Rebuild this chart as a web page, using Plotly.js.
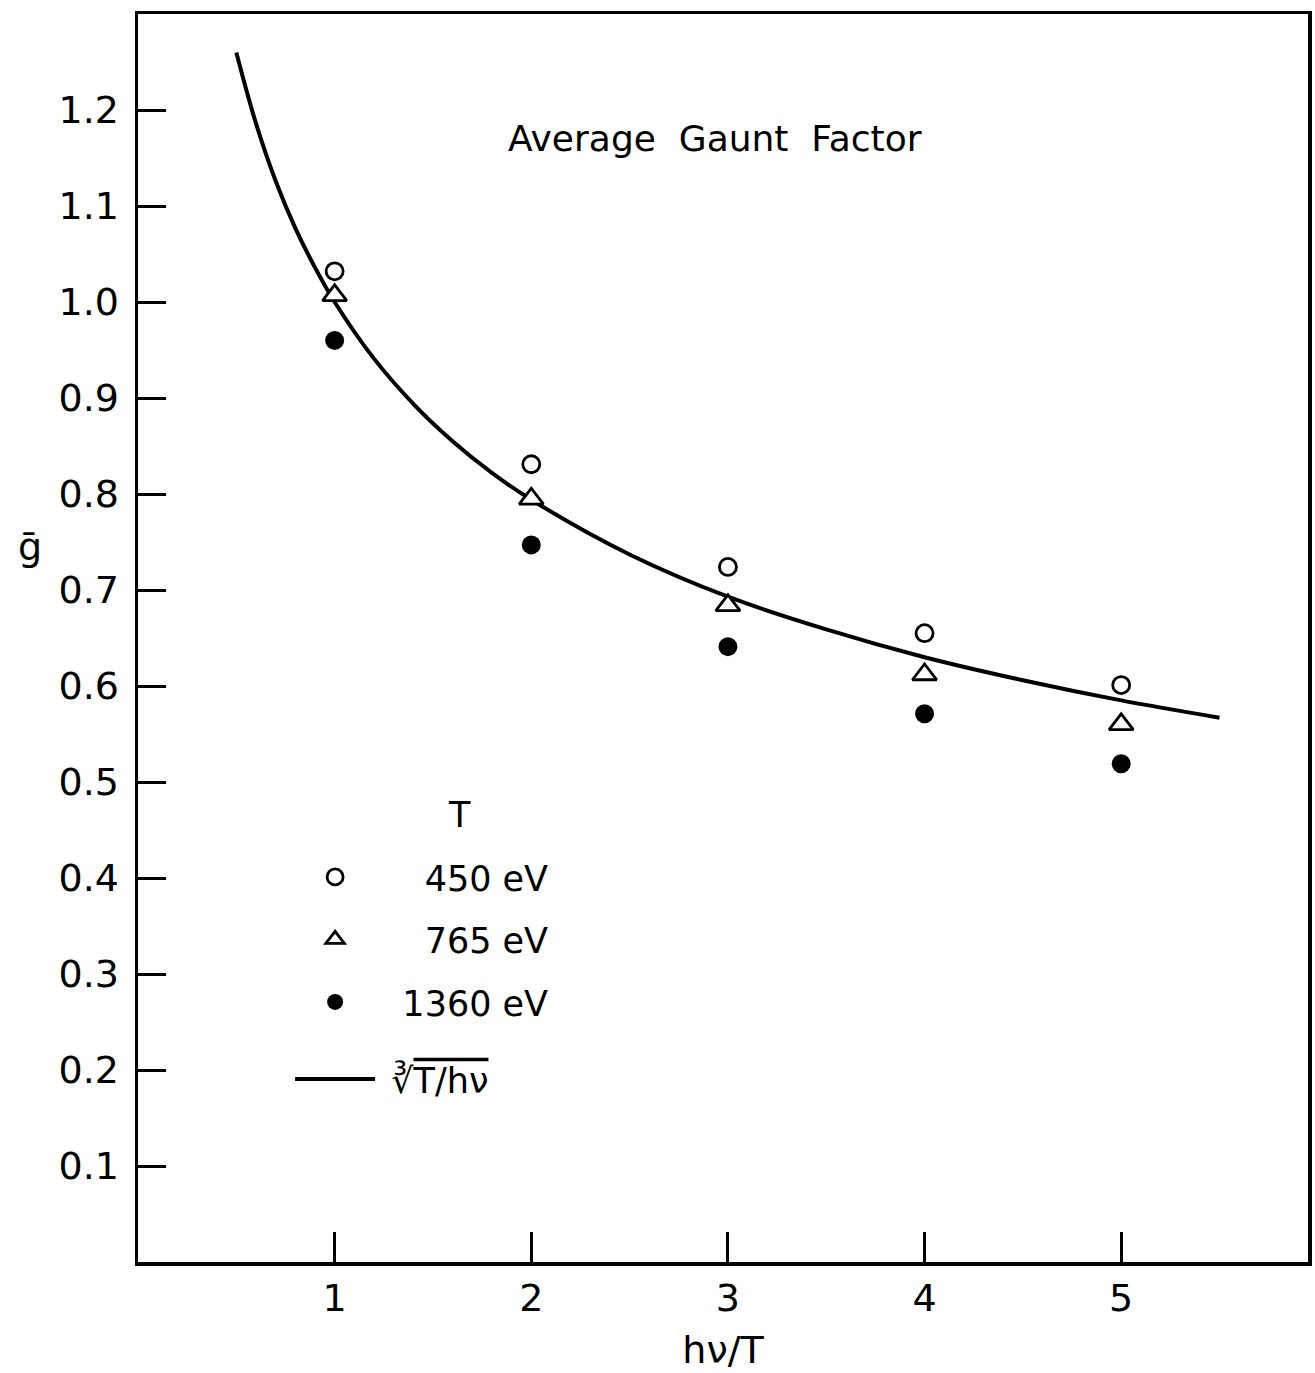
<!DOCTYPE html>
<html>
<head>
<meta charset="utf-8">
<script src="https://cdn.plot.ly/plotly-3.0.1.min.js"></script>
<style>
  html, body { margin: 0; padding: 0; background: #fff; }
  #chart { width: 1315px; height: 1373px; }
</style>
</head>
<body>
<div id="chart"></div>
<script>
// Photon energy in units of the electron temperature
var hvOverT = [1, 2, 3, 4, 5];

// Average Gaunt factor at three plasma temperatures
var gaunt450 = [1.032, 0.831, 0.724, 0.655, 0.601];
var gaunt765 = [1.007, 0.795, 0.684, 0.612, 0.560];
var gaunt1360 = [0.960, 0.747, 0.641, 0.571, 0.519];

// Cube-root law (T/hν)^(1/3), sampled along the curve
var curveX = [0.5, 0.6, 0.7, 0.8, 0.9, 1.0, 1.2, 1.4, 1.6, 1.8, 2.0, 2.5, 3.0, 3.5, 4.0, 4.5, 5.0, 5.5];
var curveY = [1.26, 1.186, 1.126, 1.077, 1.036, 1.0, 0.941, 0.894, 0.855, 0.822, 0.794, 0.737, 0.693, 0.659, 0.630, 0.606, 0.585, 0.567];

// Legend labels (figure spaces keep the numbers right-aligned)
var seriesNames = ['\u2007\u2007450 eV', '\u2007\u2007765 eV', '\u20071360 eV'];
var curveName = '\u00A0\u221B<span style="text-decoration:overline">T/h\u03BD</span>';
var legendHeading = 'T';

var yTicks = [0.1, 0.2, 0.3, 0.4, 0.5, 0.6, 0.7, 0.8, 0.9, 1.0, 1.1, 1.2];
var yTickText = ['0.1', '0.2', '0.3', '0.4', '0.5', '0.6', '0.7', '0.8', '0.9', '1.0', '1.1', '1.2'];
var xTicks = [1, 2, 3, 4, 5];

var FONT = 'DejaVu Sans, Liberation Sans, sans-serif';
var INK = '#000';

var traces = [
  {
    x: curveX, y: curveY, type: 'scatter', mode: 'lines',
    name: curveName, legend: 'legend2',
    line: { color: INK, width: 4, shape: 'spline', smoothing: 1 }
  },
  {
    x: hvOverT, y: gaunt450, type: 'scatter', mode: 'markers',
    name: seriesNames[0], legendgroup: 'a',
    marker: { symbol: 'circle', size: 17, color: '#fff', line: { color: INK, width: 2.8 } }
  },
  {
    x: hvOverT, y: gaunt765, type: 'scatter', mode: 'markers',
    name: seriesNames[1], legendgroup: 'b',
    marker: { symbol: 'triangle-up', size: 21, color: '#fff', line: { color: INK, width: 2.8 } }
  },
  {
    x: hvOverT, y: gaunt1360, type: 'scatter', mode: 'markers',
    name: seriesNames[2], legendgroup: 'c',
    marker: { symbol: 'circle', size: 19, color: INK, line: { color: INK, width: 0 } }
  }
];

var legendFont = { family: FONT, size: 35, color: INK };

var layout = {
  width: 1315, height: 1373,
  paper_bgcolor: '#fff', plot_bgcolor: '#fff',
  margin: { l: 138, r: 7, t: 14, b: 111 },
  font: { family: FONT, color: INK, size: 36 },
  showlegend: true,
  title: {
    text: 'Average  Gaunt  Factor',
    font: { family: FONT, size: 36, color: INK },
    xref: 'paper', yref: 'paper', x: 0.493, y: 0.90,
    xanchor: 'center', yanchor: 'middle'
  },
  xaxis: {
    range: [0, 5.95],
    tickvals: xTicks, ticktext: xTicks.map(String),
    ticks: 'inside', ticklen: 30, tickwidth: 3, tickcolor: INK,
    showline: true, linewidth: 3.5, linecolor: INK, mirror: true,
    showgrid: false, zeroline: false,
    tickfont: { family: FONT, size: 38, color: INK },
    title: { text: 'h\u03BD/T', font: { family: FONT, size: 38, color: INK }, standoff: 18 }
  },
  yaxis: {
    range: [0, 1.3],
    tickvals: yTicks, ticktext: yTickText,
    ticks: 'inside', ticklen: 28, tickwidth: 3, tickcolor: INK,
    showline: true, linewidth: 3.5, linecolor: INK, mirror: true,
    showgrid: false, zeroline: false, ticklabelstandoff: 8,
    tickfont: { family: FONT, size: 38, color: INK }
  },
  legend: {
    x: 0.13, y: 0.332, xanchor: 'left', yanchor: 'top',
    bgcolor: 'rgba(0,0,0,0)', borderwidth: 0,
    font: legendFont,
    itemwidth: 80, tracegroupgap: 14,
    itemsizing: 'trace'
  },
  legend2: {
    x: 0.13, y: 0.170, xanchor: 'left', yanchor: 'top',
    bgcolor: 'rgba(0,0,0,0)', borderwidth: 0,
    font: legendFont,
    itemwidth: 80
  },
  annotations: [
    {
      text: legendHeading, xref: 'paper', yref: 'paper', x: 0.275, y: 0.358,
      xanchor: 'center', yanchor: 'middle', showarrow: false,
      font: legendFont
    },
    {
      text: '\u1E21', xref: 'paper', yref: 'y', x: 0, y: 0.745,
      xshift: -122, showarrow: false,
      font: { family: FONT, size: 38, color: INK }
    }
  ]
};

Plotly.newPlot('chart', traces, layout, { staticPlot: true, displayModeBar: false });
</script>
</body>
</html>
